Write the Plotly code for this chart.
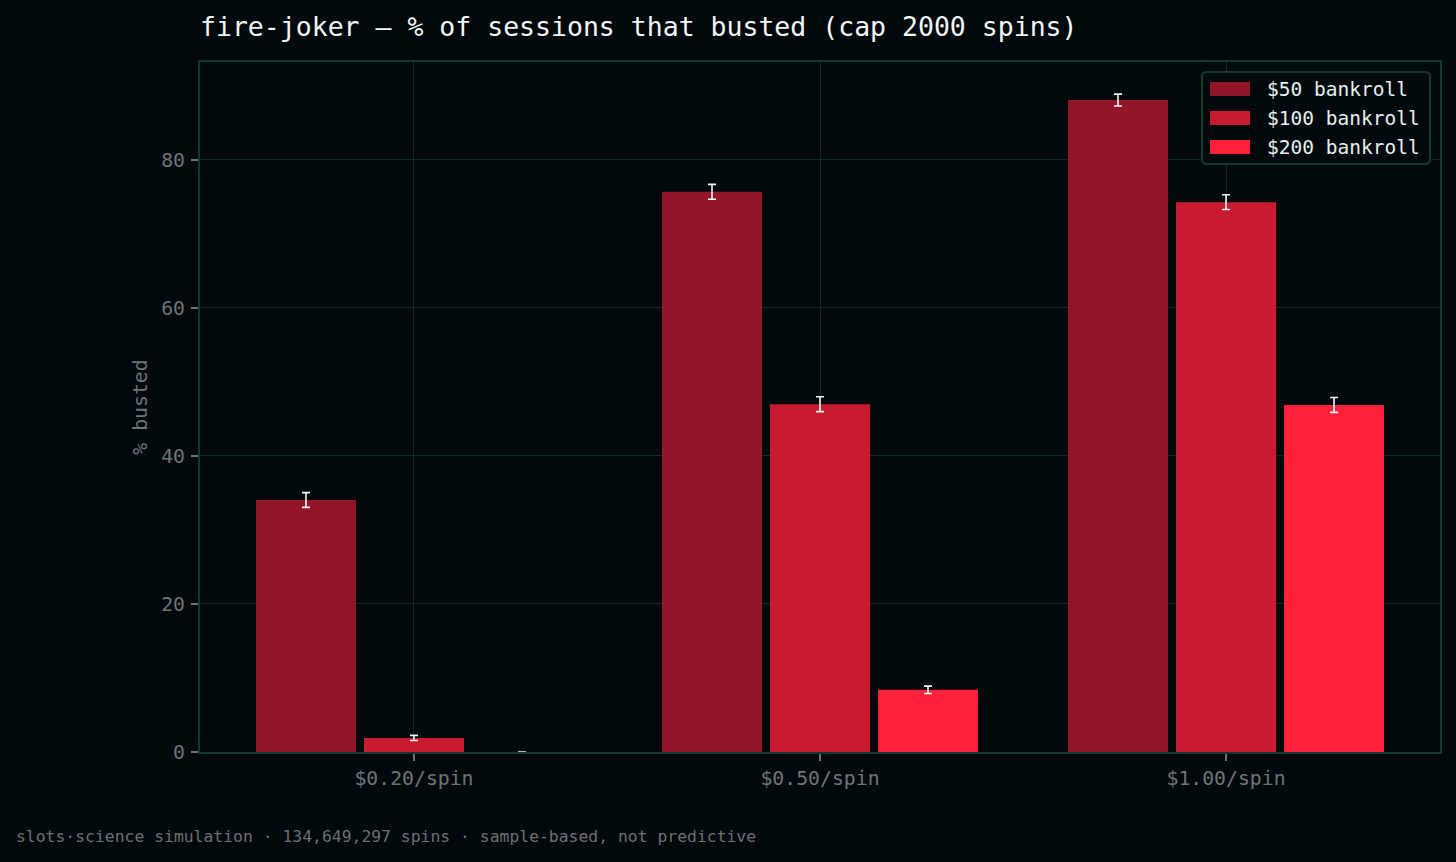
import plotly.graph_objects as go

categories = ["$0.20/spin", "$0.50/spin", "$1.00/spin"]
series_names = ["$50 bankroll", "$100 bankroll", "$200 bankroll"]
bust_50 = [34.05, 75.7, 88.1]
bust_100 = [1.9, 47.0, 74.3]
bust_200 = [0.0, 8.4, 46.9]
err_50 = [1.0, 1.0, 0.8]
err_100 = [0.35, 1.0, 1.0]
err_200 = [0.0, 0.5, 1.0]
colors = ["#921628", "#c91b30", "#ff213c"]

BG = "#02090c"
GRID = "#0e2a24"
FRAME = "#0f3a30"
TICK = "#6e7474"
FONT = "DejaVu Sans Mono, monospace"

# plot area in pixels (for converting layout positions to paper coords)
PX0, PX1, PY0, PY1 = 200, 1440, 62, 752
def px(x):
    return (x - PX0) / (PX1 - PX0)
def py(y):
    return (PY1 - y) / (PY1 - PY0)

fig = go.Figure()
for name, vals, errs, col in zip(series_names, [bust_50, bust_100, bust_200],
                                 [err_50, err_100, err_200], colors):
    fig.add_trace(go.Bar(
        x=categories, y=vals, name=name,
        marker=dict(color=col, line=dict(width=0)),
        error_y=dict(type="data", array=errs, visible=True,
                     color="#f0f8f6", thickness=1.6, width=4),
        showlegend=False,
    ))

fig.update_layout(
    width=1456, height=862,
    paper_bgcolor=BG, plot_bgcolor=BG,
    barmode="group", bargap=0.202, bargroupgap=0.074,
    margin=dict(l=200, r=16, t=62, b=110),
    font=dict(family=FONT, color=TICK, size=20),
    title=dict(text="fire-joker — % of sessions that busted (cap 2000 spins)",
               x=200 / 1456, xanchor="left", xref="container",
               y=1 - 27 / 862, yanchor="middle", yref="container",
               font=dict(family=FONT, size=26.5, color="#f2f7f5")),
    showlegend=False,
)
fig.update_xaxes(
    range=[-0.527, 2.527], showgrid=True, gridcolor=GRID, gridwidth=1,
    showline=True, linecolor=FRAME, linewidth=2, mirror=True,
    ticks="outside", ticklen=7, tickcolor=TICK, tickwidth=1.5,
    tickfont=dict(family=FONT, size=19.8, color=TICK),
    layer="above traces", zeroline=False,
)
fig.update_yaxes(
    range=[0, 93.24], dtick=20, showgrid=True, gridcolor=GRID, gridwidth=1,
    showline=True, linecolor=FRAME, linewidth=2, mirror=True,
    ticks="outside", ticklen=7, tickcolor=TICK, tickwidth=1.5,
    tickfont=dict(family=FONT, size=19.8, color=TICK),
    ticklabelstandoff=2,
    title=dict(text="% busted", font=dict(family=FONT, size=19.8, color=TICK), standoff=8),
    layer="above traces", zeroline=False,
)

# custom legend (box with wide rectangular swatches)
lx0, lx1, ly0, ly1, r = 1202, 1430, 72, 164, 5
path = (f"M {px(lx0 + r)},{py(ly0)} L {px(lx1 - r)},{py(ly0)} "
        f"Q {px(lx1)},{py(ly0)} {px(lx1)},{py(ly0 + r)} "
        f"L {px(lx1)},{py(ly1 - r)} Q {px(lx1)},{py(ly1)} {px(lx1 - r)},{py(ly1)} "
        f"L {px(lx0 + r)},{py(ly1)} Q {px(lx0)},{py(ly1)} {px(lx0)},{py(ly1 - r)} "
        f"L {px(lx0)},{py(ly0 + r)} Q {px(lx0)},{py(ly0)} {px(lx0 + r)},{py(ly0)} Z")
fig.add_shape(type="path", path=path, xref="paper", yref="paper",
              fillcolor=BG, line=dict(color=FRAME, width=2), layer="above")
row_y = [89, 118, 147]
for name, col, yc in zip(series_names, colors, row_y):
    fig.add_shape(type="rect", xref="paper", yref="paper",
                  x0=px(1210), x1=px(1250), y0=py(yc - 7), y1=py(yc + 7),
                  fillcolor=col, line=dict(width=0), layer="above")
    fig.add_annotation(text=name, xref="paper", yref="paper",
                       x=px(1265), y=py(yc), xanchor="left", yanchor="middle",
                       showarrow=False,
                       font=dict(family=FONT, size=19.5, color="#e6f0ee"))

fig.add_annotation(
    text="slots·science simulation · 134,649,297 spins · sample-based, not predictive",
    xref="paper", yref="paper", x=px(14), y=py(836),
    xanchor="left", yanchor="middle", showarrow=False,
    font=dict(family=FONT, size=16.4, color="#6a7070"),
)

fig.write_html("out.html")
